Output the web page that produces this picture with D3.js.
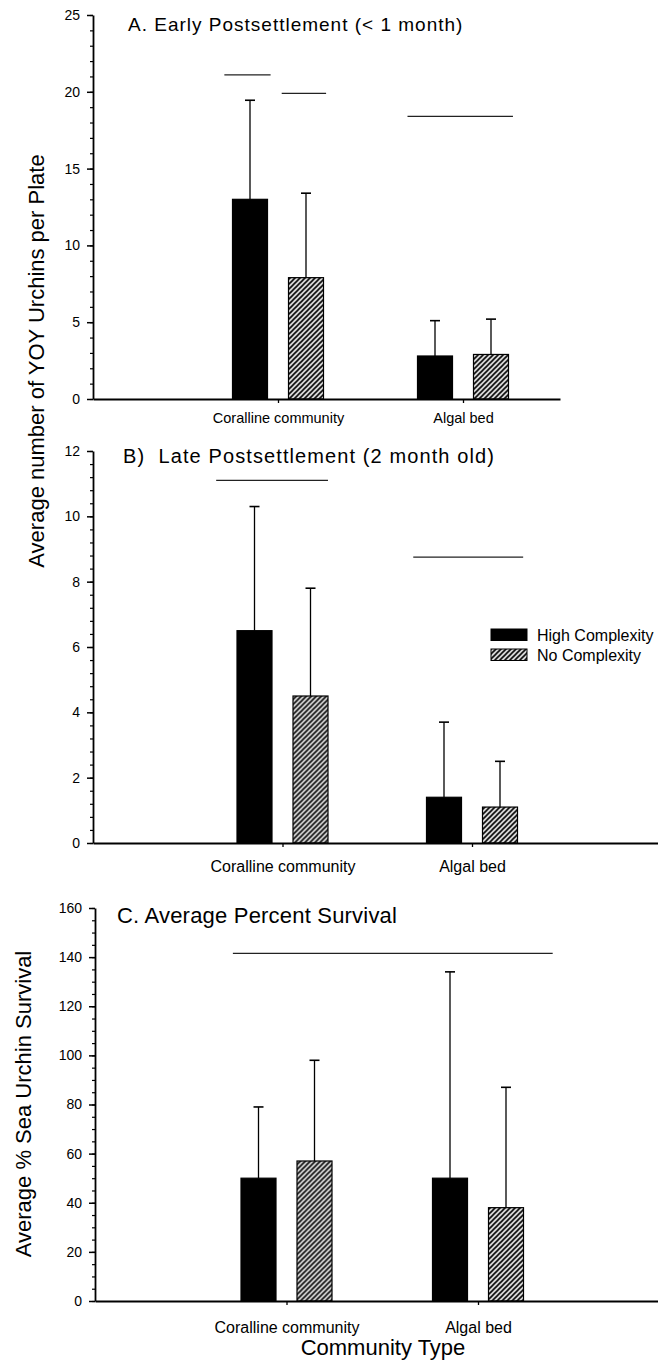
<!DOCTYPE html>
<html>
<head>
<meta charset="utf-8">
<script src="https://cdn.jsdelivr.net/npm/d3@7"></script>
<style>
  body { margin: 0; background: #fff; }
  svg { display: block; font-family: Arial, "Liberation Sans", Helvetica, sans-serif; }
  .pre { white-space: pre; }
</style>
</head>
<body>
<svg id="chart"></svg>
<script>
const categories = ['Coralline community', 'Algal bed']
const seriesNames = ['High Complexity', 'No Complexity']

// A. early postsettlement (mean, error)
const earlyHigh = [13.0, 2.8]
const earlyHighErr = [6.45, 2.3]
const earlyNo = [7.9, 2.9]
const earlyNoErr = [5.5, 2.3]
const earlyTicks = [0, 5, 10, 15, 20, 25]
// significance lines: [from, to, value] in category units
const earlySig = [[0.71, 0.96, 21.1], [1.02, 1.26, 19.9], [1.70, 2.27, 18.4]]

// B. late postsettlement
const lateHigh = [6.5, 1.4]
const lateHighErr = [3.8, 2.3]
const lateNo = [4.5, 1.1]
const lateNoErr = [3.3, 1.4]
const lateTicks = [0, 2, 4, 6, 8, 10, 12]
const lateSig = [[0.65, 1.24, 11.1], [1.69, 2.27, 8.75]]

// C. percent survival
const survHigh = [50, 50]
const survHighErr = [29, 84]
const survNo = [57, 38]
const survNoErr = [41, 49]
const survTicks = [0, 20, 40, 60, 80, 100, 120, 140, 160]
const survSig = [[0.72, 2.39, 141.5]]

const W = 658, H = 1360
const svg = d3.select('#chart').attr('width', W).attr('height', H)

const defs = svg.append('defs')
const pat = defs.append('pattern').attr('id', 'hatch')
  .attr('patternUnits', 'userSpaceOnUse').attr('width', 5).attr('height', 5)
pat.append('rect').attr('width', 5).attr('height', 5).attr('fill', '#d6d6d6')
pat.append('path').attr('d', 'M-1,1 L1,-1 M0,5 L5,0 M4,6 L6,4')
  .attr('stroke', '#111').attr('stroke-width', 1.6)

const fills = ['#000', 'url(#hatch)']

const panels = [
  { title: 'A. Early Postsettlement (< 1 month)', tx: 128, ty: 31, tSize: 19, tSpace: 1.0,
    left: 93, right: 560, top: 15, bottom: 399, max: 25, ticks: earlyTicks, minor: 1, step: 185,
    catSize: 14.5, catPad: 10,
    series: [{ mean: earlyHigh, err: earlyHighErr }, { mean: earlyNo, err: earlyNoErr }], sig: earlySig },
  { title: 'B)  Late Postsettlement (2 month old)', tx: 123, ty: 463, tSize: 20, tSpace: 1.1,
    left: 93, right: 658, top: 451, bottom: 843, max: 12, ticks: lateTicks, minor: 0.4, step: 189.5,
    catSize: 16, catPad: 13.5,
    series: [{ mean: lateHigh, err: lateHighErr }, { mean: lateNo, err: lateNoErr }], sig: lateSig },
  { title: 'C. Average Percent Survival', tx: 117, ty: 923, tSize: 22, tSpace: 0.2,
    left: 95, right: 658, top: 908, bottom: 1301, max: 160, ticks: survTicks, minor: 5, step: 191.5,
    catSize: 16, catPad: 16.5,
    series: [{ mean: survHigh, err: survHighErr }, { mean: survNo, err: survNoErr }], sig: survSig }
]

function drawPanel(p) {
  const g = svg.append('g')
  const y = d3.scaleLinear().domain([0, p.max]).range([p.bottom, p.top])
  const x = d3.scaleLinear().domain([0, (p.right - p.left) / p.step]).range([p.left, p.right])
  const xs = d3.scaleBand().domain(seriesNames).range([-45.5, 45.5]).paddingInner(0.375)

  // minor ticks
  g.append('g').attr('transform', `translate(${p.left},0)`)
    .call(d3.axisLeft(y).tickValues(d3.range(0, p.max + 1e-9, p.minor)).tickSize(3).tickSizeOuter(0).tickFormat(''))
    .call(a => a.select('.domain').remove())
    .selectAll('line').attr('stroke-width', 1.2)

  // major ticks
  const ya = g.append('g').attr('transform', `translate(${p.left},0)`)
    .call(d3.axisLeft(y).tickValues(p.ticks).tickSize(6).tickSizeOuter(0).tickPadding(7))
    .attr('font-size', 14).attr('font-family', null)
  ya.select('.domain').attr('stroke-width', 1.8)
  ya.selectAll('line').attr('stroke-width', 1.5)

  // bars
  const rows = categories.map((c, i) => ({
    idx: i + 1,
    vals: p.series.map((s, k) => ({ name: seriesNames[k], k: k, v: s.mean[i], e: s.err[i] }))
  }))
  const groups = g.selectAll('.cat').data(rows).enter()
    .append('g').attr('class', 'cat')
    .attr('transform', d => `translate(${x(d.idx)},0)`)

  const items = groups.selectAll('.bar').data(d => d.vals).enter()
    .append('g').attr('class', 'bar')

  // error bars (upper only)
  items.append('line')
    .attr('x1', d => xs(d.name) + xs.bandwidth() / 2)
    .attr('x2', d => xs(d.name) + xs.bandwidth() / 2)
    .attr('y1', d => y(d.v))
    .attr('y2', d => y(d.v + d.e))
    .attr('stroke', '#000').attr('stroke-width', 1.3)
  items.append('line')
    .attr('x1', d => xs(d.name) + xs.bandwidth() / 2 - 5)
    .attr('x2', d => xs(d.name) + xs.bandwidth() / 2 + 5)
    .attr('y1', d => y(d.v + d.e))
    .attr('y2', d => y(d.v + d.e))
    .attr('stroke', '#000').attr('stroke-width', 1.6)

  items.append('rect')
    .attr('x', d => xs(d.name))
    .attr('y', d => y(d.v))
    .attr('width', xs.bandwidth())
    .attr('height', d => y(0) - y(d.v))
    .attr('fill', d => fills[d.k])
    .attr('stroke', '#000').attr('stroke-width', 1.2)

  // x axis
  const xa = g.append('g').attr('transform', `translate(0,${p.bottom})`)
    .call(d3.axisBottom(x).tickValues(rows.map(d => d.idx))
      .tickFormat(i => categories[i - 1]).tickSize(4).tickSizeOuter(0).tickPadding(p.catPad))
    .attr('font-size', p.catSize).attr('font-family', null)
  xa.select('.domain').attr('stroke-width', 1.8)
  xa.selectAll('line').attr('stroke-width', 1.3)

  // significance lines
  g.selectAll('.sig').data(p.sig).enter()
    .append('line').attr('class', 'sig')
    .attr('x1', d => x(d[0])).attr('x2', d => x(d[1]))
    .attr('y1', d => y(d[2])).attr('y2', d => y(d[2]))
    .attr('stroke', '#222').attr('stroke-width', 1.2)

  g.append('text').attr('class', 'pre')
    .attr('x', p.tx).attr('y', p.ty)
    .attr('font-size', p.tSize).attr('letter-spacing', p.tSpace)
    .text(p.title)
}

panels.forEach(drawPanel)

// legend (inside panel B)
const legend = svg.append('g').attr('transform', 'translate(491,629)')
  .selectAll('g').data(seriesNames).enter()
  .append('g').attr('transform', (d, i) => `translate(0,${i * 20})`)
legend.append('rect').attr('width', 36).attr('height', 11.5)
  .attr('fill', (d, i) => fills[i]).attr('stroke', '#000').attr('stroke-width', 1)
legend.append('text').attr('x', 46).attr('y', 11.5)
  .attr('font-size', 16).text(d => d)

// axis titles
svg.append('text')
  .attr('transform', 'translate(44,361) rotate(-90)')
  .attr('text-anchor', 'middle').attr('font-size', 22)
  .text('Average number of YOY Urchins per Plate')
svg.append('text')
  .attr('transform', 'translate(31,1104) rotate(-90)')
  .attr('text-anchor', 'middle').attr('font-size', 22)
  .text('Average % Sea Urchin Survival')
svg.append('text')
  .attr('x', 383).attr('y', 1355)
  .attr('text-anchor', 'middle').attr('font-size', 22)
  .text('Community Type')
</script>
</body>
</html>
